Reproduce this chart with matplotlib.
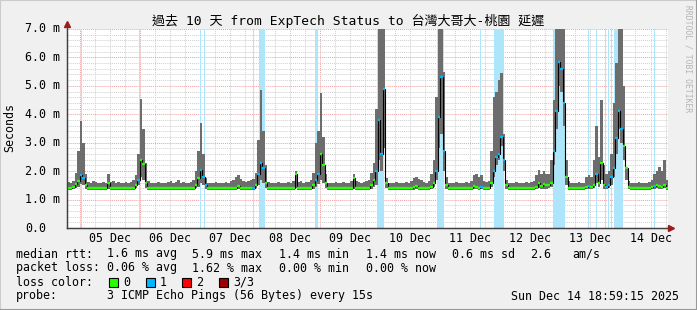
from datetime import datetime, timedelta

import matplotlib
matplotlib.use("Agg")
import matplotlib.dates as mdates
import matplotlib.pyplot as plt
from matplotlib import transforms
from matplotlib.lines import Line2D
from matplotlib.patches import Rectangle
from matplotlib.ticker import MultipleLocator

MONO = "DejaVu Sans Mono"
TITLE = "過去 10 天 from ExpTech Status to 台灣大哥大-桃園 延遲"

# hourly buckets starting Dec 4 19:00, one row = 19:00 .. 18:00 of the next day (ms)
first_bucket = datetime(2025, 12, 4, 19)
smoke_high = [
    1.62, 1.60, 1.65, 1.95, 2.70, 3.75, 3.00, 1.90, 1.62, 1.58, 1.64, 1.62, 1.58, 1.60, 1.62, 1.58, 1.90, 1.62, 1.65, 1.60, 1.62, 1.58, 1.60, 1.62,
    1.60, 1.62, 1.70, 1.85, 2.60, 4.55, 3.50, 2.30, 1.65, 1.60, 1.58, 1.60, 1.62, 1.60, 1.58, 1.60, 1.62, 1.65, 1.60, 1.62, 1.68, 1.60, 1.62, 1.60,
    1.60, 1.62, 1.70, 2.00, 2.70, 3.70, 2.60, 1.75, 1.60, 1.58, 1.60, 1.62, 1.60, 1.58, 1.60, 1.62, 1.60, 1.65, 1.70, 1.78, 1.88, 1.72, 1.65, 1.62,
    1.65, 1.70, 1.72, 1.95, 3.10, 4.85, 3.40, 2.20, 1.62, 1.60, 1.58, 1.60, 1.62, 1.60, 1.58, 1.60, 1.62, 1.60, 1.65, 2.00, 1.62, 1.65, 1.60, 1.62,
    1.62, 1.68, 1.95, 3.00, 3.40, 4.75, 3.20, 1.90, 1.60, 1.58, 1.60, 1.62, 1.58, 1.60, 1.62, 1.60, 1.58, 1.65, 1.90, 1.65, 1.62, 1.60, 1.62, 1.66,
    1.70, 1.95, 2.30, 4.20, 7.50, 7.50, 7.50, 1.75, 1.60, 1.58, 1.60, 1.62, 1.60, 1.58, 1.60, 1.62, 1.60, 1.65, 1.75, 1.80, 1.72, 1.70, 1.62, 1.60,
    1.65, 1.90, 2.40, 4.60, 7.50, 7.50, 5.50, 1.80, 1.60, 1.58, 1.60, 1.62, 1.60, 1.58, 1.60, 1.62, 1.60, 1.65, 1.85, 1.90, 1.80, 1.85, 1.65, 1.62,
    1.65, 2.70, 4.60, 4.80, 5.20, 5.45, 3.30, 1.70, 1.60, 1.58, 1.60, 1.62, 1.60, 1.58, 1.60, 1.62, 1.60, 1.62, 1.65, 1.85, 2.05, 1.90, 2.00, 1.90,
    1.90, 2.40, 4.50, 7.50, 7.50, 7.50, 7.50, 2.40, 1.65, 1.60, 1.58, 1.60, 1.62, 1.60, 1.60, 1.80, 1.85, 1.80, 2.40, 3.60, 2.50, 4.50, 2.20, 1.90,
    2.00, 2.60, 4.40, 5.80, 7.50, 7.50, 5.00, 2.10, 1.65, 1.60, 1.58, 1.60, 1.62, 1.60, 1.58, 1.60, 1.62, 1.70, 1.90, 2.00, 2.15, 2.00, 2.40, 1.70,
]
smoke_low = [
    1.34, 1.34, 1.36, 1.40, 1.45, 1.55, 1.50, 1.38, 1.34, 1.34, 1.34, 1.34, 1.34, 1.34, 1.34, 1.34, 1.36, 1.34, 1.34, 1.34, 1.34, 1.34, 1.34, 1.34,
    1.34, 1.34, 1.34, 1.40, 1.50, 1.80, 1.70, 1.40, 1.34, 1.34, 1.34, 1.34, 1.34, 1.34, 1.34, 1.34, 1.34, 1.34, 1.34, 1.34, 1.34, 1.34, 1.34, 1.34,
    1.34, 1.34, 1.34, 1.40, 1.45, 1.60, 1.50, 1.38, 1.34, 1.34, 1.34, 1.34, 1.34, 1.34, 1.34, 1.34, 1.34, 1.34, 1.34, 1.34, 1.36, 1.34, 1.34, 1.34,
    1.34, 1.34, 1.34, 1.40, 1.50, 1.70, 1.60, 1.40, 1.34, 1.34, 1.34, 1.34, 1.34, 1.34, 1.34, 1.34, 1.34, 1.34, 1.34, 1.40, 1.34, 1.34, 1.34, 1.34,
    1.34, 1.34, 1.38, 1.45, 1.55, 1.70, 1.60, 1.40, 1.34, 1.34, 1.34, 1.34, 1.34, 1.34, 1.34, 1.34, 1.34, 1.34, 1.38, 1.34, 1.34, 1.34, 1.34, 1.34,
    1.34, 1.38, 1.45, 1.50, 2.40, 2.00, 2.80, 1.40, 1.34, 1.34, 1.34, 1.34, 1.34, 1.34, 1.34, 1.34, 1.34, 1.34, 1.34, 1.36, 1.34, 1.34, 1.34, 1.34,
    1.34, 1.38, 1.45, 1.70, 2.80, 3.30, 2.00, 1.38, 1.34, 1.34, 1.34, 1.34, 1.34, 1.34, 1.34, 1.34, 1.34, 1.34, 1.36, 1.36, 1.34, 1.36, 1.34, 1.34,
    1.34, 1.45, 1.80, 2.20, 2.40, 2.90, 2.00, 1.38, 1.34, 1.34, 1.34, 1.34, 1.34, 1.34, 1.34, 1.34, 1.34, 1.34, 1.34, 1.36, 1.40, 1.36, 1.38, 1.38,
    1.40, 1.45, 2.20, 3.50, 5.00, 4.80, 3.60, 1.50, 1.34, 1.34, 1.34, 1.34, 1.34, 1.34, 1.34, 1.36, 1.36, 1.36, 1.40, 1.60, 1.45, 1.70, 1.38, 1.36,
    1.40, 1.50, 1.80, 2.60, 3.50, 3.00, 2.40, 1.70, 1.38, 1.34, 1.34, 1.34, 1.34, 1.34, 1.34, 1.34, 1.34, 1.36, 1.38, 1.40, 1.38, 1.36, 1.40, 1.34,
]
median_rtt = [
    1.42, 1.42, 1.45, 1.55, 1.65, 1.85, 1.75, 1.50, 1.42, 1.42, 1.42, 1.42, 1.42, 1.42, 1.42, 1.42, 1.58, 1.42, 1.42, 1.42, 1.42, 1.42, 1.42, 1.42,
    1.42, 1.42, 1.42, 1.50, 1.70, 2.40, 2.25, 1.60, 1.42, 1.42, 1.42, 1.42, 1.42, 1.42, 1.42, 1.42, 1.42, 1.42, 1.42, 1.42, 1.42, 1.42, 1.42, 1.42,
    1.42, 1.42, 1.42, 1.50, 1.75, 2.05, 1.80, 1.50, 1.42, 1.42, 1.42, 1.42, 1.42, 1.42, 1.42, 1.42, 1.42, 1.42, 1.42, 1.42, 1.48, 1.42, 1.42, 1.42,
    1.42, 1.42, 1.42, 1.50, 1.90, 2.30, 2.10, 1.60, 1.42, 1.42, 1.42, 1.42, 1.42, 1.42, 1.42, 1.42, 1.42, 1.42, 1.42, 1.90, 1.42, 1.42, 1.42, 1.42,
    1.42, 1.42, 1.50, 1.70, 1.90, 2.60, 2.20, 1.60, 1.42, 1.42, 1.42, 1.42, 1.42, 1.42, 1.42, 1.42, 1.42, 1.42, 1.75, 1.42, 1.42, 1.42, 1.42, 1.42,
    1.42, 1.50, 1.70, 2.00, 3.80, 2.60, 4.90, 1.60, 1.42, 1.42, 1.42, 1.42, 1.42, 1.42, 1.42, 1.42, 1.42, 1.42, 1.45, 1.48, 1.42, 1.42, 1.42, 1.42,
    1.42, 1.45, 1.60, 2.00, 3.90, 5.30, 2.70, 1.50, 1.42, 1.42, 1.42, 1.42, 1.42, 1.42, 1.42, 1.42, 1.42, 1.42, 1.48, 1.45, 1.42, 1.45, 1.42, 1.42,
    1.42, 1.60, 2.00, 2.50, 2.60, 3.20, 2.40, 1.50, 1.42, 1.42, 1.42, 1.42, 1.42, 1.42, 1.42, 1.42, 1.42, 1.42, 1.42, 1.45, 1.60, 1.48, 1.55, 1.50,
    1.50, 1.60, 2.70, 4.10, 5.85, 5.60, 4.40, 1.80, 1.42, 1.42, 1.42, 1.42, 1.42, 1.42, 1.42, 1.45, 1.48, 1.45, 1.50, 1.90, 1.60, 2.30, 1.50, 1.45,
    1.50, 1.80, 2.10, 3.15, 4.10, 3.50, 2.90, 2.10, 1.45, 1.42, 1.42, 1.42, 1.42, 1.42, 1.42, 1.42, 1.42, 1.45, 1.48, 1.50, 1.48, 1.45, 1.50, 1.42,
]

# periods with 1/3 packet loss, hours after Dec 5 00:00
loss_start_h = [0.7, 23.6, 48.1, 49.8, 69.2, 71.6, 94.2, 118.6, 142.9, 160.0, 165.4,
                189.2, 203.2, 206.1, 210.0, 211.0, 212.1, 213.4, 229.4]
loss_end_h = [1.1, 24.0, 48.5, 50.2, 69.6, 73.9, 95.3, 121.5, 145.7, 160.4, 169.6,
              193.8, 203.6, 206.7, 210.4, 211.4, 212.5, 217.0, 229.8]

day_labels = ["05 Dec", "06 Dec", "07 Dec", "08 Dec", "09 Dec",
              "10 Dec", "11 Dec", "12 Dec", "13 Dec", "14 Dec"]
y_ticks = [0, 1, 2, 3, 4, 5, 6, 7]

rtt_stats = ["1.6 ms avg", "5.9 ms max", "1.4 ms min", "1.4 ms now", "0.6 ms sd", "2.6", "am/s"]
loss_stats = ["0.06 % avg", "1.62 % max", "0.00 % min", "0.00 % now"]
loss_names = ["0", "1", "2", "3/3"]
loss_colors = ["#26ff00", "#00b8ff", "#ff0000", "#a00000"]
probe_text = "3 ICMP Echo Pings (56 Bytes) every 15s"
stamp = "Sun Dec 14 18:59:15 2025"

W, H = 697, 310


def px(x):
    return x / W


def py(y):
    return 1 - y / H


graph_start = datetime(2025, 12, 4, 18, 59, 15)
graph_end = datetime(2025, 12, 14, 18, 59, 15)
midnight = datetime(2025, 12, 5)
edges = [first_bucket + timedelta(hours=i) for i in range(len(median_rtt) + 1)]

fig = plt.figure(figsize=(W / 100, H / 100), dpi=100, facecolor="#f0f0f0")
ax = fig.add_axes([px(67), py(228), px(601), 199 / H])
ax.set_facecolor("white")

# loss background
loss_bg = "#ade6fa"
for s, e in zip(loss_start_h, loss_end_h):
    ax.axvspan(midnight + timedelta(hours=s), midnight + timedelta(hours=e), color=loss_bg, lw=0, zorder=1)

# smoke
ax.fill_between(edges, smoke_low + smoke_low[-1:], smoke_high + smoke_high[-1:],
                step="post", color="#6d6d6d", lw=0, zorder=2)

# median, coloured by loss
ax.step(edges, median_rtt + median_rtt[-1:], where="post", color="black", lw=0.8, zorder=3)
seg_colors = []
for i in range(len(median_rtt)):
    a = (edges[i] - midnight).total_seconds() / 3600
    b = a + 1
    lossy = any(s < b and e > a for s, e in zip(loss_start_h, loss_end_h))
    seg_colors.append(loss_colors[1] if lossy else loss_colors[0])
ax.hlines(median_rtt, edges[:-1], edges[1:], colors=seg_colors, lw=1.7, zorder=4)

ax.set_xlim(graph_start, graph_end)
ax.set_ylim(0, 7)
ax.xaxis.set_major_locator(mdates.DayLocator())
ax.xaxis.set_minor_locator(mdates.HourLocator(byhour=[6, 12, 18]))
ax.yaxis.set_major_locator(MultipleLocator(1))
ax.yaxis.set_minor_locator(MultipleLocator(0.2))
ax.grid(which="minor", color="#cfcfcf", linestyle=(0, (1, 1)), linewidth=0.7)
ax.grid(which="major", color="#f0a0a0", linestyle=(0, (1, 1)), linewidth=0.7)
ax.set_axisbelow(True)
ax.tick_params(which="both", length=0, labelbottom=False, labelleft=False)
for side in ("top", "right"):
    ax.spines[side].set_visible(False)
for side in ("left", "bottom"):
    ax.spines[side].set_color("#404040")
    ax.spines[side].set_linewidth(0.9)

# axis extensions with arrows
fig.add_artist(Line2D([px(67), px(67)], [py(228), py(24)], color="#404040", lw=0.9))
fig.add_artist(Line2D([px(67), px(671)], [py(228), py(228)], color="#404040", lw=0.9))
fig.add_artist(Line2D([px(67)], [py(24)], marker="^", ms=4, color="#9b1c1c", lw=0))
fig.add_artist(Line2D([px(671)], [py(228)], marker=">", ms=4, color="#9b1c1c", lw=0))

# tick labels
xtrans = transforms.blended_transform_factory(ax.transData, fig.transFigure)
for i, lab in enumerate(day_labels):
    ax.text(midnight + timedelta(days=i, hours=12), py(238), lab, transform=xtrans,
            ha="center", va="center", family=MONO, fontsize=8.4)
ytrans = transforms.blended_transform_factory(fig.transFigure, ax.transData)
for v in y_ticks:
    lab = "%.1f m" % v if v else "%.1f" % v
    ax.text(px(25), v, lab, transform=ytrans, ha="left", va="center", family=MONO, fontsize=8.4)

fig.text(px(10), py(128), "Seconds", rotation=90, ha="center", va="center", family=MONO, fontsize=8.4)
fig.text(0.5, py(21), TITLE, ha="center", va="center", family=[MONO, "Noto Sans CJK TC"], fontsize=9.4)
fig.text(px(688), py(5), "RRDTOOL / TOBI OETIKER", rotation=270, ha="center", va="top",
         family=MONO, fontsize=5.8, color="#b4b4b4")

# legend
rows_y = [254, 268, 282, 296]
fig.text(px(16), py(rows_y[0]), "median rtt:", va="center", family=MONO, fontsize=8.4)
for x, s in zip([107, 192, 279, 366, 452, 530, 572], rtt_stats):
    fig.text(px(x), py(rows_y[0]), s, va="center", family=MONO, fontsize=8.4)
fig.text(px(16), py(rows_y[1]), "packet loss:", va="center", family=MONO, fontsize=8.4)
for x, s in zip([107, 192, 279, 366], loss_stats):
    fig.text(px(x), py(rows_y[1]), s, va="center", family=MONO, fontsize=8.4)
fig.text(px(16), py(rows_y[2]), "loss color:", va="center", family=MONO, fontsize=8.4)
for x, name, c in zip([109, 146, 182, 219], loss_names, loss_colors):
    fig.add_artist(Rectangle((px(x), py(rows_y[2] + 4.5)), px(9), 9 / H, transform=fig.transFigure,
                             facecolor=c, edgecolor="black", lw=0.8))
    fig.text(px(x + 14), py(rows_y[2]), name, va="center", family=MONO, fontsize=8.4)
fig.text(px(16), py(rows_y[3]), "probe:", va="center", family=MONO, fontsize=8.4)
fig.text(px(107), py(rows_y[3]), probe_text, va="center", family=MONO, fontsize=8.4)
fig.text(px(679), py(rows_y[3]), stamp, ha="right", va="center", family=MONO, fontsize=8.4)

# 3d-ish frame
fig.add_artist(Line2D([0, 0, 1], [0, 1, 1], color="#cbcbcb", lw=1.5))
fig.add_artist(Line2D([0, 1, 1], [0, 0, 1], color="#999999", lw=1.5))

fig.savefig("out.png", dpi=100, facecolor=fig.get_facecolor())
